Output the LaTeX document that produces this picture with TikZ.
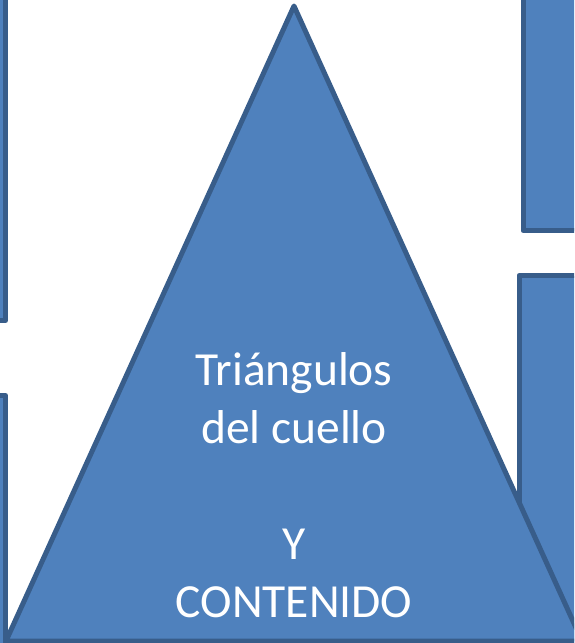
\documentclass[tikz,border=0pt]{standalone}
\usepackage{fontspec}
\setmainfont{Carlito}
\usetikzlibrary{positioning}
\definecolor{officeblue}{HTML}{4F81BD}
\definecolor{officeline}{HTML}{385D8A}
\begin{document}
\begin{tikzpicture}[x=1pt, y=-1pt, line join=round,
  panel/.style={fill=officeblue, draw=officeline, line width=5pt}]
  \useasboundingbox (0,0) rectangle (574,643);
  \clip (0,0) rectangle (574,643);
  % side boxes, mostly outside the frame
  \draw[panel] (-60,-10) rectangle (5.5,320.5);
  \draw[panel] (-60,395.5) rectangle (5.5,700);
  \draw[panel] (523,-10) rectangle (640,230.5);
  \draw[panel] (519,275.5) rectangle (640,700);
  % the triangle in front
  \draw[panel] (294,6) -- (582,641) -- (6,641) -- cycle;
  \node[text=white, align=center, font=\fontsize{47.5}{58}\selectfont] (label) at (294,485)
    {Triángulos\\del cuello\\ \\Y\\CONTENIDO};
\end{tikzpicture}
\end{document}
